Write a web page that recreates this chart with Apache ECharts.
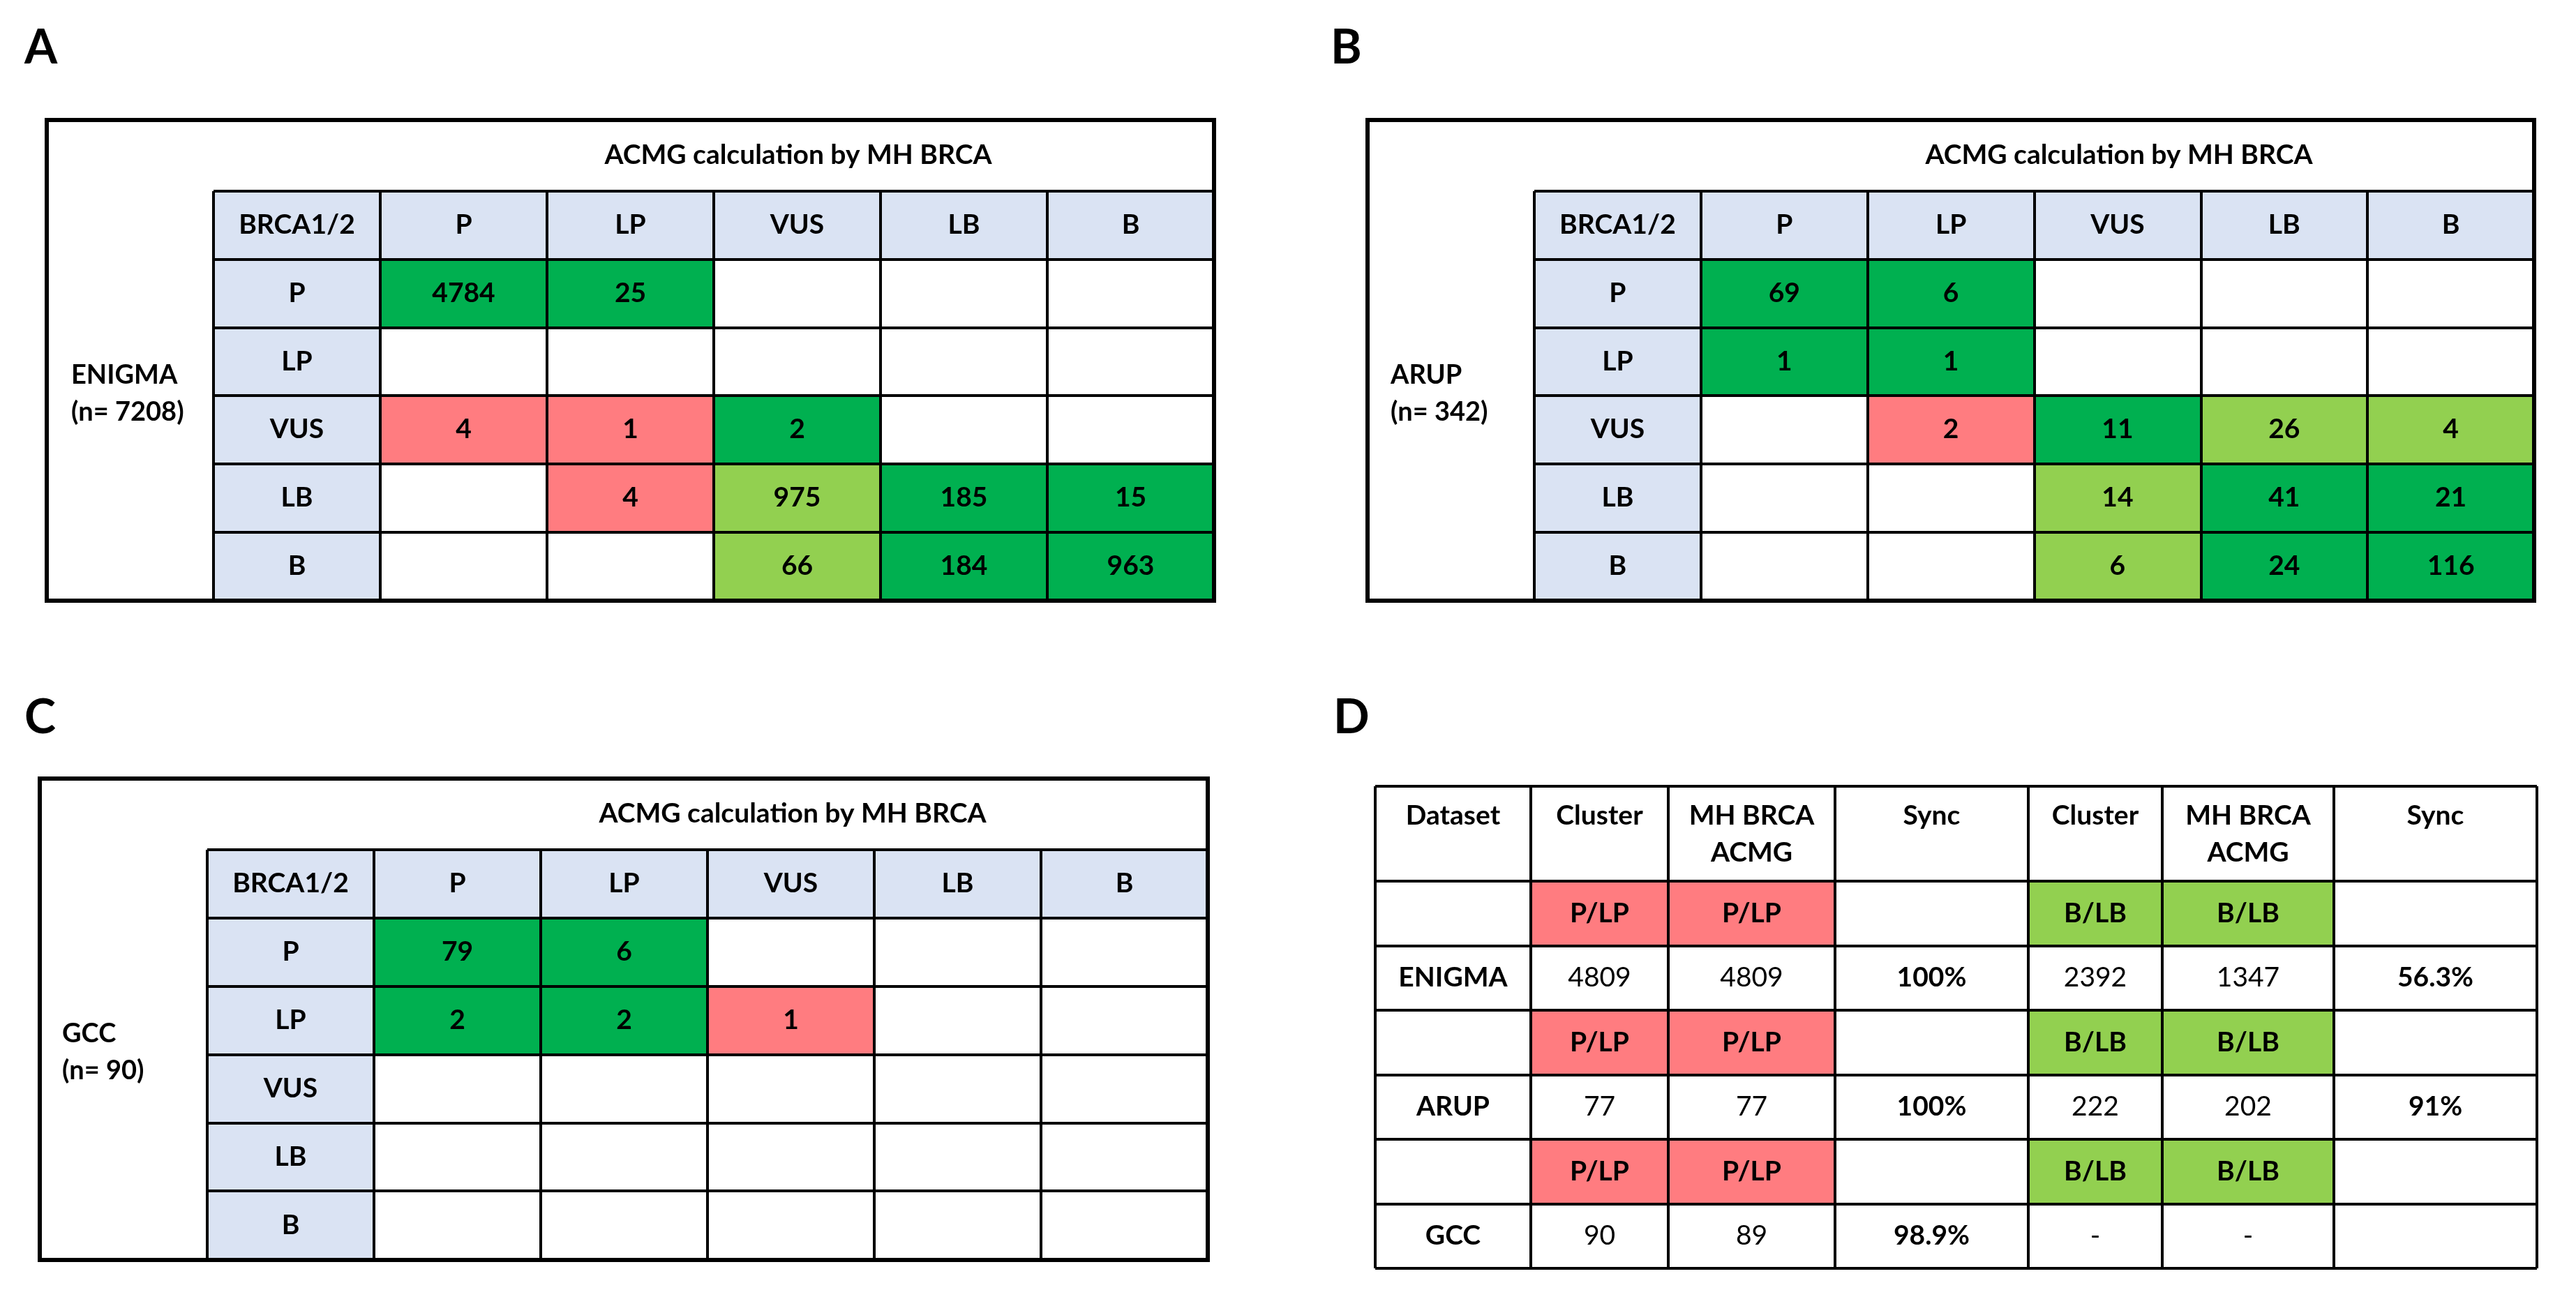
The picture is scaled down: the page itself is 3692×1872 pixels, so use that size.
<!DOCTYPE html>
<html>
<head>
<meta charset="utf-8">
<title>ACMG calculation by MH BRCA</title>
<script src="https://cdn.jsdelivr.net/npm/echarts@6/dist/echarts.min.js"></script>
<style>
  html, body { margin: 0; padding: 0; background: #fff; }
  #chart { width: 3692px; height: 1872px; }
</style>
</head>
<body>
<div id="chart"></div>
<script>
// ---- data ----
var classes = ['P', 'LP', 'VUS', 'LB', 'B'];
var cornerLabel = 'BRCA1/2';
var panelTitle = 'ACMG calculation by MH BRCA';

// rows = expert class (BRCA1/2), columns = ACMG class by MH BRCA
var enigmaCounts = [
	[4784, 25, null, null, null],
	[null, null, null, null, null],
	[4, 1, 2, null, null],
	[null, 4, 975, 185, 15],
	[null, null, 66, 184, 963]
];
var arupCounts = [
	[69, 6, null, null, null],
	[1, 1, null, null, null],
	[null, 2, 11, 26, 4],
	[null, null, 14, 41, 21],
	[null, null, 6, 24, 116]
];
var gccCounts = [
	[79, 6, null, null, null],
	[2, 2, 1, null, null],
	[null, null, null, null, null],
	[null, null, null, null, null],
	[null, null, null, null, null]
];

var datasetNames = ['ENIGMA', 'ARUP', 'GCC'];
var datasetSizes = ['(n= 7208)', '(n= 342)', '(n= 90)'];

// panel D
var syncHeaders = ['Dataset', 'Cluster', 'MH BRCA\nACMG', 'Sync', 'Cluster', 'MH BRCA\nACMG', 'Sync'];
var pathGroup = 'P/LP';
var benignGroup = 'B/LB';
var pathCluster = [4809, 77, 90];
var pathMhBrca = [4809, 77, 89];
var pathSync = ['100%', '100%', '98.9%'];
var benignCluster = [2392, 222, '-'];
var benignMhBrca = [1347, 202, '-'];
var benignSync = ['56.3%', '91%', ''];

// ---- styles / layout ----
var FONT = 'Lato, "Open Sans", "Noto Sans", sans-serif';
var CELL_SIZE = 39;
var COLORS = {
	head: '#DAE3F3',
	match: '#00B050',
	near: '#92D050',
	discord: '#FF7C80',
	none: '#FFFFFF'
};
var classGroup = { P: 'path', LP: 'path', VUS: 'vus', LB: 'ben', B: 'ben' };

var panels = [
	{ letter: 'A', counts: enigmaCounts, ds: 0, box: [67, 172, 1740, 861], grid: [306, 274, 1434, 586], titleX: 1144, titleY: 222, nameX: 102, nameY: 538, letterX: 35, letterY: 69 },
	{ letter: 'B', counts: arupCounts, ds: 1, box: [1960, 172, 3632, 861], grid: [2199, 274, 1433, 586], titleX: 3037, titleY: 222, nameX: 1993, nameY: 538, letterX: 1907, letterY: 69 },
	{ letter: 'C', counts: gccCounts, ds: 2, box: [57, 1116, 1731, 1806], grid: [297, 1218, 1434, 587], titleX: 1136, titleY: 1166, nameX: 89, nameY: 1482, letterX: 35, letterY: 1029 }
];
var dLayout = { edges: [1971, 2194, 2391, 2630, 2907, 3099, 3345, 3636], top: 1127, headBottom: 1263, bottom: 1818, letterX: 1911, letterY: 1029 };

function cellKind(r, c) {
	var gr = classGroup[classes[r]], gc = classGroup[classes[c]];
	if (gr === gc) return 'match';
	if (gr === 'path' || gc === 'path') return 'discord';
	return 'near';
}

function catAxis(gridIndex, cats, inverse) {
	return {
		type: 'category',
		gridIndex: gridIndex,
		data: cats,
		inverse: !!inverse,
		z: 10,
		axisLine: { show: false },
		axisTick: { show: false, interval: 0 },
		axisLabel: { show: false, interval: 0 },
		splitLine: { show: true, interval: 0, showMinLine: true, showMaxLine: true, lineStyle: { color: '#000', width: 4 } }
	};
}

function cellLabel(size, weight) {
	return { show: true, color: '#000', fontFamily: FONT, fontSize: size, fontWeight: weight };
}

var grids = [], xAxes = [], yAxes = [], series = [], graphics = [];

// ---- panels A, B, C ----
panels.forEach(function (p) {
	var gi = grids.length;
	grids.push({ left: p.grid[0], top: p.grid[1], width: p.grid[2], height: p.grid[3], containLabel: false });
	xAxes.push(catAxis(gi, [cornerLabel].concat(classes), false));
	yAxes.push(catAxis(gi, ['head'].concat(classes), true));

	var data = [];
	data.push({ value: [0, 0, 0], txt: cornerLabel, itemStyle: { color: COLORS.head } });
	for (var j = 0; j < classes.length; j++) {
		data.push({ value: [j + 1, 0, 0], txt: classes[j], itemStyle: { color: COLORS.head } });
	}
	for (var i = 0; i < classes.length; i++) {
		data.push({ value: [0, i + 1, 0], txt: classes[i], itemStyle: { color: COLORS.head } });
		for (var k = 0; k < classes.length; k++) {
			var v = p.counts[i][k];
			data.push({
				value: [k + 1, i + 1, v == null ? 0 : v],
				txt: v == null ? '' : String(v),
				itemStyle: { color: v == null ? COLORS.none : COLORS[cellKind(i, k)] }
			});
		}
	}
	series.push({
		type: 'heatmap',
		xAxisIndex: gi,
		yAxisIndex: gi,
		data: data,
		label: Object.assign(cellLabel(CELL_SIZE, 'bold'), { formatter: function (prm) { return prm.data.txt; } }),
		emphasis: { disabled: true }
	});

	graphics.push({
		type: 'rect',
		shape: { x: p.box[0], y: p.box[1], width: p.box[2] - p.box[0], height: p.box[3] - p.box[1] },
		style: { fill: 'none', stroke: '#000', lineWidth: 6 },
		z: 100
	});
	graphics.push({ type: 'text', x: p.letterX, y: p.letterY, style: { text: p.letter, font: 'bold 68px ' + FONT, fill: '#000', textAlign: 'left', textVerticalAlign: 'middle' } });
	graphics.push({ type: 'text', x: p.titleX, y: p.titleY, style: { text: panelTitle, font: 'bold ' + CELL_SIZE + 'px ' + FONT, fill: '#000', textAlign: 'center', textVerticalAlign: 'middle' } });
	graphics.push({ type: 'text', x: p.nameX, y: p.nameY, style: { text: datasetNames[p.ds], font: 'bold 38px ' + FONT, fill: '#000', textAlign: 'left', textVerticalAlign: 'middle' } });
	graphics.push({ type: 'text', x: p.nameX, y: p.nameY + 53, style: { text: datasetSizes[p.ds], font: 'bold 38px ' + FONT, fill: '#000', textAlign: 'left', textVerticalAlign: 'middle' } });
});

// ---- panel D ----
var dRows = [];
for (var d = 0; d < datasetNames.length; d++) {
	dRows.push({ kind: 'group', cells: ['', pathGroup, pathGroup, '', benignGroup, benignGroup, ''] });
	dRows.push({ kind: 'value', cells: [datasetNames[d], pathCluster[d], pathMhBrca[d], pathSync[d], benignCluster[d], benignMhBrca[d], benignSync[d]] });
}
var dRowCats = dRows.map(function (r, i) { return 'r' + i; });

for (var c = 0; c < syncHeaders.length; c++) {
	var left = dLayout.edges[c], width = dLayout.edges[c + 1] - dLayout.edges[c];

	// header cell
	var hg = grids.length;
	grids.push({ left: left, top: dLayout.top, width: width, height: dLayout.headBottom - dLayout.top });
	xAxes.push(catAxis(hg, [syncHeaders[c]], false));
	yAxes.push(catAxis(hg, ['head'], true));
	series.push({
		type: 'heatmap',
		xAxisIndex: hg,
		yAxisIndex: hg,
		data: [{ value: [0, 0, 0], txt: syncHeaders[c], itemStyle: { color: COLORS.none } }],
		label: Object.assign(cellLabel(CELL_SIZE, 'bold'), {
			position: 'insideTop',
			distance: 16,
			lineHeight: 53,
			formatter: function (prm) { return prm.data.txt; }
		}),
		emphasis: { disabled: true }
	});

	// body column
	var bg = grids.length;
	grids.push({ left: left, top: dLayout.headBottom, width: width, height: dLayout.bottom - dLayout.headBottom });
	xAxes.push(catAxis(bg, [syncHeaders[c]], false));
	yAxes.push(catAxis(bg, dRowCats, true));
	var colData = dRows.map(function (row, ri) {
		var txt = row.cells[c];
		var fill = COLORS.none;
		if (row.kind === 'group' && txt === pathGroup) fill = COLORS.discord;
		if (row.kind === 'group' && txt === benignGroup) fill = COLORS.near;
		var bold = row.kind === 'group' || c === 0 || c === 3 || c === 6;
		return {
			value: [0, ri, 0],
			txt: String(txt),
			itemStyle: { color: fill },
			label: { fontWeight: bold ? 'bold' : 'normal' }
		};
	});
	series.push({
		type: 'heatmap',
		xAxisIndex: bg,
		yAxisIndex: bg,
		data: colData,
		label: Object.assign(cellLabel(CELL_SIZE, 'bold'), { formatter: function (prm) { return prm.data.txt; } }),
		emphasis: { disabled: true }
	});
}
graphics.push({ type: 'text', x: dLayout.letterX, y: dLayout.letterY, style: { text: 'D', font: 'bold 68px ' + FONT, fill: '#000', textAlign: 'left', textVerticalAlign: 'middle' } });

var chart = echarts.init(document.getElementById('chart'), null, { renderer: 'canvas' });
chart.setOption({
	animation: false,
	backgroundColor: '#fff',
	textStyle: { fontFamily: FONT },
	grid: grids,
	xAxis: xAxes,
	yAxis: yAxes,
	series: series,
	graphic: graphics
});
</script>
</body>
</html>
